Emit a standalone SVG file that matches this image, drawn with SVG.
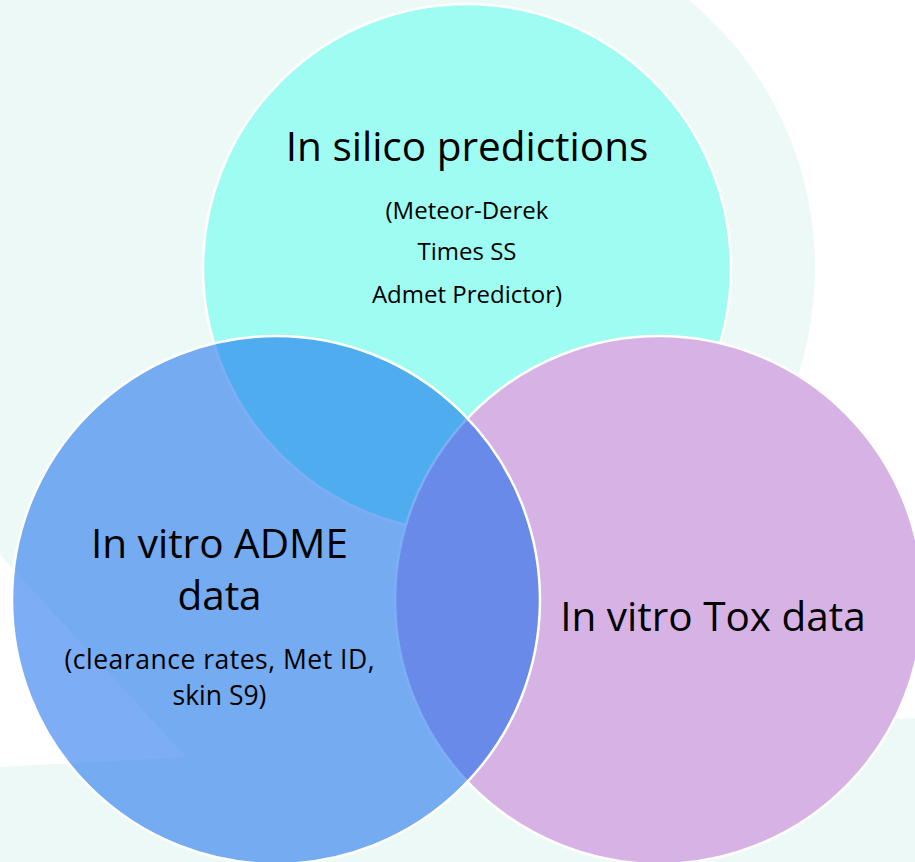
<svg xmlns="http://www.w3.org/2000/svg" width="915" height="862" viewBox="0 0 915 862">
<style>
.bg{fill:#EDF9F7}
.c{stroke:#FFFFFF;stroke-width:2.5}
.t{font-family:"Open Sans","Liberation Sans",sans-serif;fill:#000000;text-anchor:middle}
.h{font-size:40.5px}
.s{font-size:24px}
.s2{font-size:26.5px}
</style>
<g id="background">
<rect x="0" y="0" width="915" height="862" fill="#FFFFFF"/>
<circle class="bg" cx="467" cy="268" r="348"/>
<polygon class="bg" points="0,0 470,0 470,757 186,757 0,555"/>
<polygon class="bg" points="0,767 915,718 915,862 0,862"/>
</g>
<g id="connectors"/>
<g id="node-in-silico">
<circle class="c" cx="467" cy="268" r="264" fill="#9FFCF2"/>
<text class="t h" x="467" y="161">In silico predictions</text>
<text class="t s" x="467" y="219">(Meteor-Derek</text>
<text class="t s" x="467" y="260">Times SS</text>
<text class="t s" x="467" y="303">Admet Predictor)</text>
</g>
<g id="node-in-vitro-tox">
<circle class="c" cx="659" cy="600" r="264" fill="#D7B3E5"/>
<text class="t h" x="713" y="631">In vitro Tox data</text>
</g>
<g id="node-in-vitro-adme">
<circle class="c" cx="276" cy="600" r="264" fill="rgb(5,100,235)" fill-opacity="0.52"/>
<text class="t h" x="219.5" y="558">In vitro ADME</text>
<text class="t h" x="219.5" y="610">data</text>
<text class="t s2" x="219.5" y="669" textLength="310" lengthAdjust="spacing">(clearance rates, Met ID,</text>
<text class="t s2" x="219.5" y="705">skin S9)</text>
</g>
</svg>
